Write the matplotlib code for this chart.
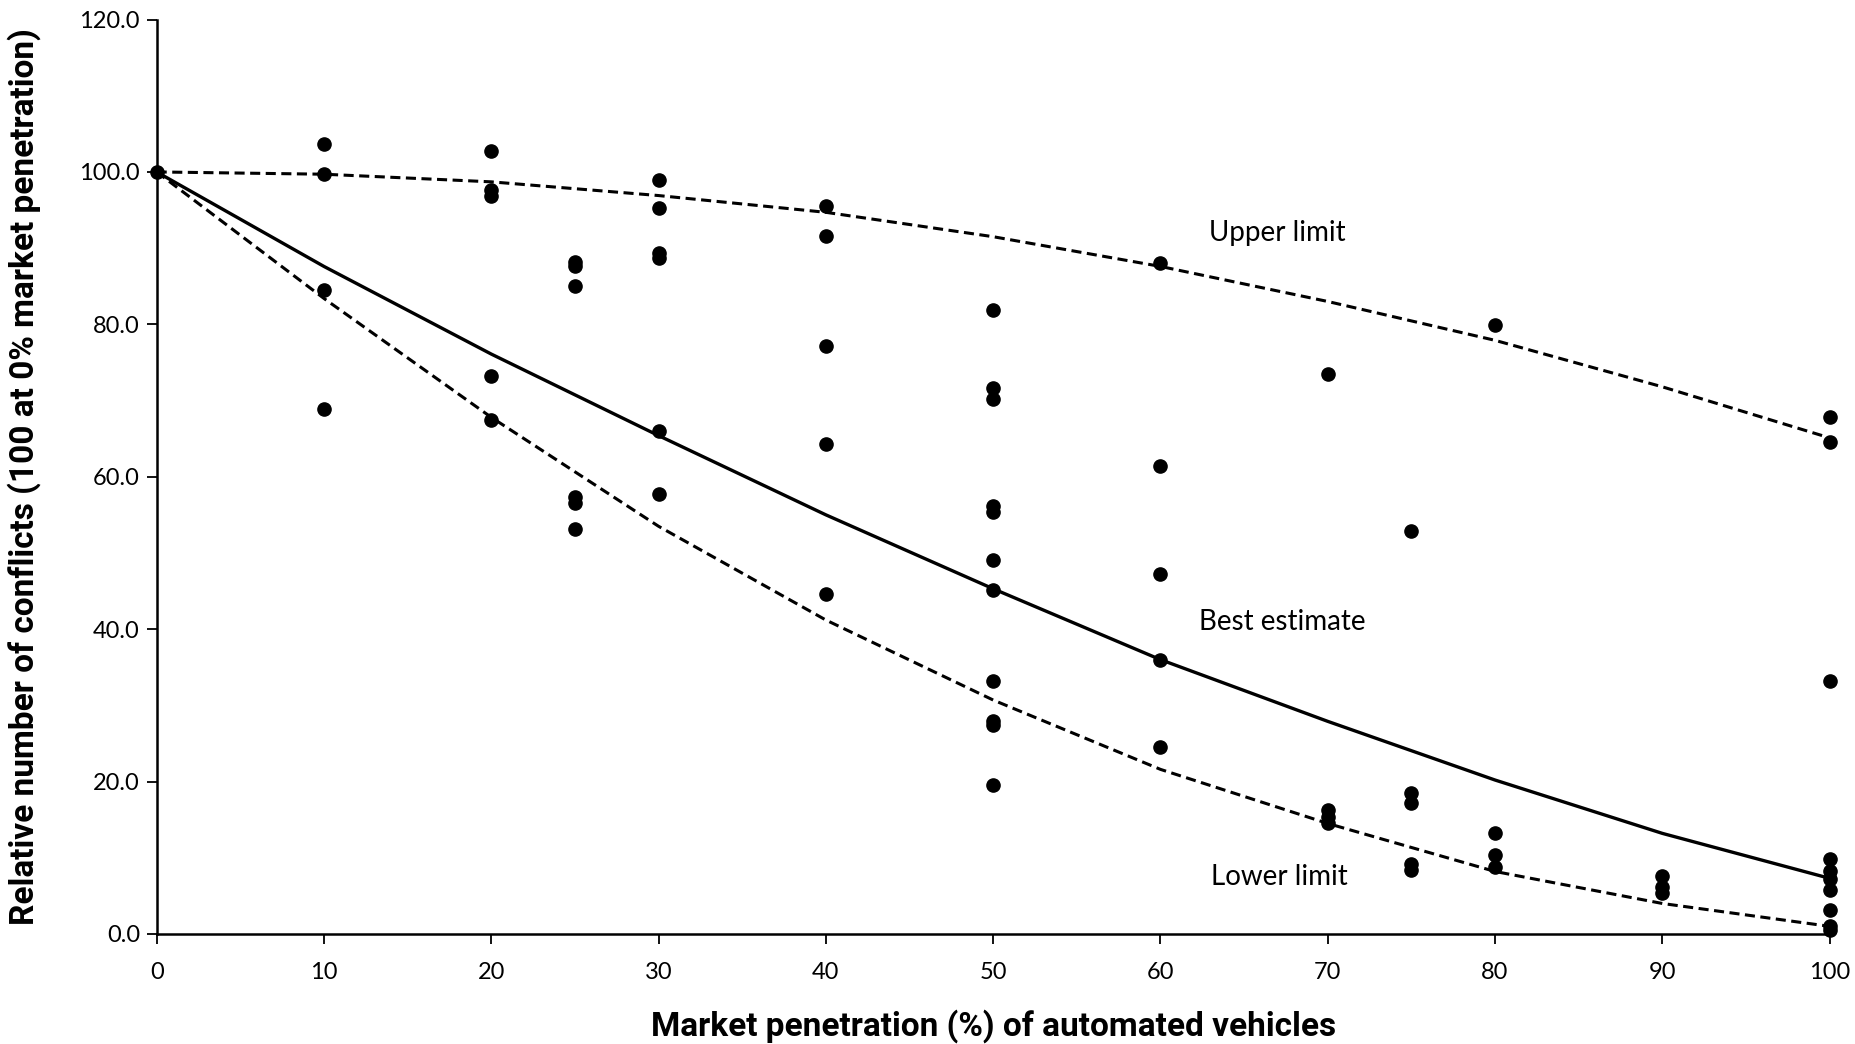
import matplotlib
matplotlib.use("Agg")
import matplotlib.pyplot as plt
import numpy as np

plt.rcParams["font.family"] = ["Lato", "DejaVu Sans"]

# observed relative conflicts per market penetration level
obs_levels = [0, 10, 20, 25, 30, 40, 50, 60, 70, 75, 80, 90, 100]
obs_values = [
    [100.0],
    [103.7, 99.7, 84.5, 68.9],
    [102.7, 97.6, 96.8, 73.2, 67.5],
    [88.2, 87.6, 85.0, 57.3, 56.6, 53.2],
    [98.9, 95.3, 89.4, 88.7, 66.0, 57.8],
    [95.5, 91.6, 77.1, 64.3, 44.6],
    [81.9, 71.7, 70.2, 56.1, 55.4, 49.1, 45.2, 33.2, 27.9, 27.4, 19.6],
    [88.1, 61.4, 47.3, 36.0, 24.6],
    [73.5, 16.3, 15.4, 14.6],
    [52.9, 18.5, 17.2, 9.2, 8.4],
    [79.9, 13.2, 10.4, 8.8],
    [7.6, 6.1, 5.4],
    [67.8, 64.5, 33.2, 9.9, 8.3, 7.2, 5.8, 3.2, 1.0, 0.5],
]

# fitted curves
curve_x = [0, 10, 20, 30, 40, 50, 60, 70, 80, 90, 100]
best_estimate = [100.0, 87.6, 76.1, 65.4, 55.0, 45.3, 36.0, 27.9, 20.2, 13.2, 7.3]
upper_limit = [100.0, 99.7, 98.7, 96.9, 94.7, 91.5, 87.6, 83.0, 77.9, 71.8, 65.1]
lower_limit = [100.0, 83.4, 67.8, 53.5, 41.2, 30.7, 21.6, 14.5, 8.2, 4.0, 1.0]

x_ticks = [0, 10, 20, 30, 40, 50, 60, 70, 80, 90, 100]
y_ticks = [0, 20, 40, 60, 80, 100, 120]

scatter_x = [lvl for lvl, vals in zip(obs_levels, obs_values) for _ in vals]
scatter_y = [v for vals in obs_values for v in vals]

fig = plt.figure(figsize=(18.56, 10.44), dpi=100)
ax = fig.add_axes([0.0844, 0.1054, 0.9014, 0.8759])

ax.plot(curve_x, upper_limit, color="black", lw=2.2, dashes=(3.3, 1.8))
ax.plot(curve_x, lower_limit, color="black", lw=2.2, dashes=(3.3, 1.8))
ax.plot(curve_x, best_estimate, color="black", lw=2.4)
ax.plot(scatter_x, scatter_y, "o", color="black", ms=9.5, clip_on=False)

ax.text(67.0, 92.0, "Upper limit", fontsize=20, ha="center", va="center")
ax.text(67.3, 41.0, "Best estimate", fontsize=20, ha="center", va="center")
ax.text(67.1, 7.5, "Lower limit", fontsize=20, ha="center", va="center")

ax.set_xlim(0, 100)
ax.set_ylim(0, 120)
ax.set_xticks(x_ticks)
ax.set_yticks(y_ticks)
ax.set_yticklabels([f"{t:.1f}" for t in y_ticks])
ax.tick_params(axis="both", direction="out", length=7, width=1.3, labelsize=17)
ax.tick_params(axis="x", pad=13)
ax.tick_params(axis="y", pad=5)

for side in ["top", "right"]:
    ax.spines[side].set_visible(False)
for side in ["left", "bottom"]:
    ax.spines[side].set_linewidth(1.8)

label_font = dict(family=["Roboto", "DejaVu Sans"], weight="bold", size=24)
ax.set_xlabel("Market penetration (%) of automated vehicles", fontdict=label_font, labelpad=19)
ax.set_ylabel("Relative number of conflicts (100 at 0% market penetration)", fontdict=label_font)
ax.yaxis.set_label_coords(-0.069, 0.5)

fig.savefig("out.png", dpi=100)
